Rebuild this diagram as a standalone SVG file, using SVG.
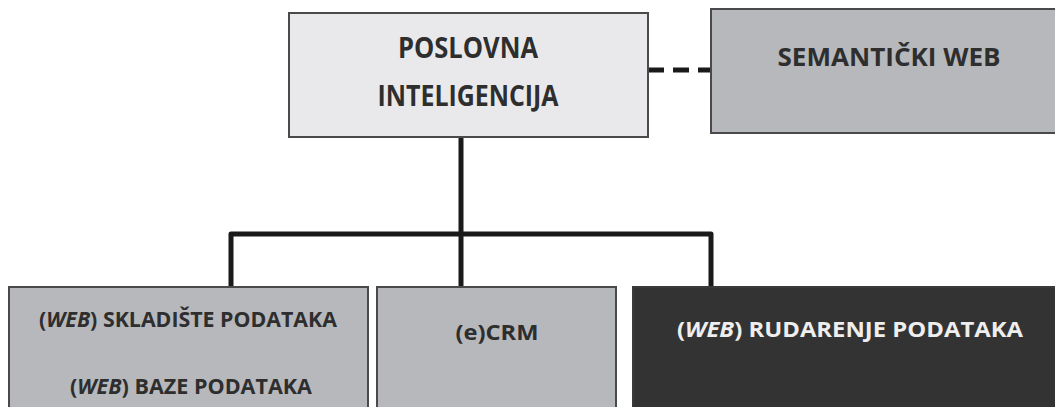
<svg xmlns="http://www.w3.org/2000/svg" width="1055" height="407" viewBox="0 0 1055 407">
<style>
.box{stroke:#4a4a4a;stroke-width:2}
.light{fill:#e9e9eb}
.gray{fill:#b7b8bb}
.dark{fill:#333333;stroke:#3a3a3a}
.t{font-family:"Open Sans","Liberation Sans",sans-serif;font-weight:700;fill:#2e2e2e;text-anchor:middle}
.big{font-size:29px}
.mid{font-size:25px}
.small{font-size:21px}
.w{fill:#eeeeee}
.conn{fill:none;stroke:#1a1a1a;stroke-width:5;stroke-linejoin:round}
</style>
<rect width="1055" height="407" fill="#ffffff"/>
<g id="connectors">
<line class="conn" x1="648" y1="70" x2="711" y2="70" stroke-dasharray="16 9"/>
<line class="conn" x1="461" y1="137" x2="461" y2="287"/>
<path class="conn" d="M231 287 V234 H711 V287"/>
</g>
<g id="poslovna">
<rect class="box light" x="289" y="13" width="359" height="124"/>
<text class="t big" x="468" y="58" textLength="140" lengthAdjust="spacingAndGlyphs">POSLOVNA</text>
<text class="t big" x="468" y="106" textLength="181" lengthAdjust="spacingAndGlyphs">INTELIGENCIJA</text>
</g>
<g id="semanticki">
<rect class="box gray" x="711" y="9" width="350" height="124"/>
<text class="t mid" x="889" y="66" textLength="223" lengthAdjust="spacingAndGlyphs">SEMANTIČKI WEB</text>
</g>
<g id="skladiste">
<rect class="box gray" x="9" y="287" width="359" height="130"/>
<text class="t small" x="188" y="327" textLength="298" lengthAdjust="spacingAndGlyphs">(<tspan font-style="italic">WEB</tspan>) SKLADIŠTE PODATAKA</text>
<text class="t small" x="191" y="394" textLength="242" lengthAdjust="spacingAndGlyphs">(<tspan font-style="italic">WEB</tspan>) BAZE PODATAKA</text>
</g>
<g id="ecrm">
<rect class="box gray" x="377" y="287" width="239" height="130"/>
<text class="t small" x="497" y="340" textLength="83" lengthAdjust="spacingAndGlyphs">(e)CRM</text>
</g>
<g id="rudarenje">
<rect class="box dark" x="633" y="287" width="430" height="130"/>
<text class="t small w" x="850" y="337" textLength="346" lengthAdjust="spacingAndGlyphs">(<tspan font-style="italic">WEB</tspan>) RUDARENJE PODATAKA</text>
</g>
</svg>
